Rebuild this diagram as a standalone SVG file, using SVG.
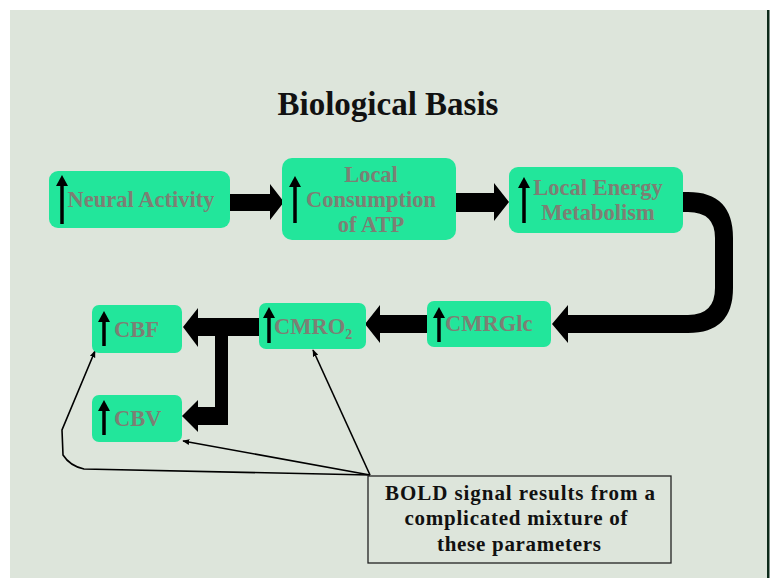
<svg xmlns="http://www.w3.org/2000/svg" width="770" height="578" viewBox="0 0 770 578">
<defs>
<style>
.node{fill:#22e69b;}
.lbl{font-family:"Liberation Serif","Times New Roman",serif;font-weight:bold;font-size:22.5px;fill:#7d7f74;}
.up{stroke:#000;stroke-width:3.5;fill:none;}
.uph{fill:#000;}
.big{fill:#000;}
.thin{stroke:#000;stroke-width:1.6;fill:none;marker-end:url(#ah);}
.btxt{font-family:"Liberation Serif","Times New Roman",serif;font-weight:bold;font-size:21px;fill:#111;text-anchor:middle;}
</style>
<marker id="ah" viewBox="0 0 10 10" refX="9" refY="5" markerWidth="7" markerHeight="7" orient="auto" markerUnits="userSpaceOnUse">
<path d="M0,1 L10,5 L0,9 Z" fill="#000"/>
</marker>
</defs>
<rect x="0" y="0" width="770" height="578" fill="#ffffff"/>
<rect x="10" y="10" width="757" height="568" fill="#dde5db"/>
<rect x="767" y="10" width="2.5" height="568" fill="#0d2a1a"/>
<text x="388" y="115" font-family="'Liberation Serif','Times New Roman',serif" font-weight="bold" font-size="33" text-anchor="middle" fill="#111">Biological Basis</text>

<g id="connectors">
<path class="big" d="M229,194 H270 V184 L284,202 L270,220 V211 H229 Z"/>
<path class="big" d="M456,193 H494 V183 L509,202 L494,221 V212 H456 Z"/>
<path class="big" d="M683,192 H688 Q733,192 733,238 V288 Q733,333 688,333 H568 V343 L552,324 L568,305 V315 H688 Q715,315 715,288 V238 Q715,212 688,212 H683 Z"/>
<path class="big" d="M427,315 H380 V305 L365,324 L380,343 V333 H427 Z"/>
<path class="big" d="M259,318 H198 V308 L183,327 L198,347 V336 H215 V407 H198 V400 L182,416 L198,432 V425 H228 V336 H259 Z"/>
<path class="thin" d="M370,475 L313,350"/>
<path class="thin" d="M370,475 L183,441"/>
<path class="thin" d="M370,475 L84,469 Q70,466 63,455 L62,430 L95,351"/>
</g>

<g id="n1">
<rect class="node" x="49" y="171" width="181" height="57" rx="9"/>
<path class="up" d="M62,182 V224"/><path class="uph" d="M56,186 L62,175 L68,186 Z"/>
<text class="lbl" x="141" y="207" text-anchor="middle">Neural Activity</text>
</g>
<g id="n2">
<rect class="node" x="282" y="158" width="174" height="82" rx="10"/>
<path class="up" d="M295,183 V223"/><path class="uph" d="M289,187 L295,176 L301,187 Z"/>
<text class="lbl" x="371" y="182" text-anchor="middle">Local</text>
<text class="lbl" x="371" y="207" text-anchor="middle">Consumption</text>
<text class="lbl" x="371" y="232" text-anchor="middle">of ATP</text>
</g>
<g id="n3">
<rect class="node" x="509" y="167" width="174" height="66" rx="9"/>
<path class="up" d="M524,184 V223"/><path class="uph" d="M518,188 L524,177 L530,188 Z"/>
<text class="lbl" x="598" y="195" text-anchor="middle">Local Energy</text>
<text class="lbl" x="598" y="220" text-anchor="middle">Metabolism</text>
</g>
<g id="n4">
<rect class="node" x="427" y="301" width="124" height="46" rx="7"/>
<path class="up" d="M439,314 V342"/><path class="uph" d="M433,318 L439,307 L445,318 Z"/>
<text class="lbl" x="445" y="331">CMRGlc</text>
</g>
<g id="n5">
<rect class="node" x="259" y="303" width="107" height="46" rx="7"/>
<path class="up" d="M269,314 V343"/><path class="uph" d="M263,318 L269,307 L275,318 Z"/>
<text class="lbl" x="274" y="334">CMRO<tspan font-size="14" dy="5">2</tspan></text>
</g>
<g id="n6">
<rect class="node" x="92" y="305" width="90" height="48" rx="7"/>
<path class="up" d="M104,318 V346"/><path class="uph" d="M98,322 L104,311 L110,322 Z"/>
<text class="lbl" x="114" y="337">CBF</text>
</g>
<g id="n7">
<rect class="node" x="92" y="395" width="90" height="47" rx="7"/>
<path class="up" d="M104,407 V435"/><path class="uph" d="M98,411 L104,400 L110,411 Z"/>
<text class="lbl" x="114" y="426">CBV</text>
</g>
<g id="note">
<rect x="368" y="476" width="303" height="87" fill="none" stroke="#222" stroke-width="1.3"/>
<text class="btxt" x="520" y="500" textLength="270" lengthAdjust="spacing">BOLD signal results from a</text>
<text class="btxt" x="516" y="525" textLength="223" lengthAdjust="spacing">complicated mixture of</text>
<text class="btxt" x="519" y="551" textLength="164" lengthAdjust="spacing">these parameters</text>
</g>
</svg>
